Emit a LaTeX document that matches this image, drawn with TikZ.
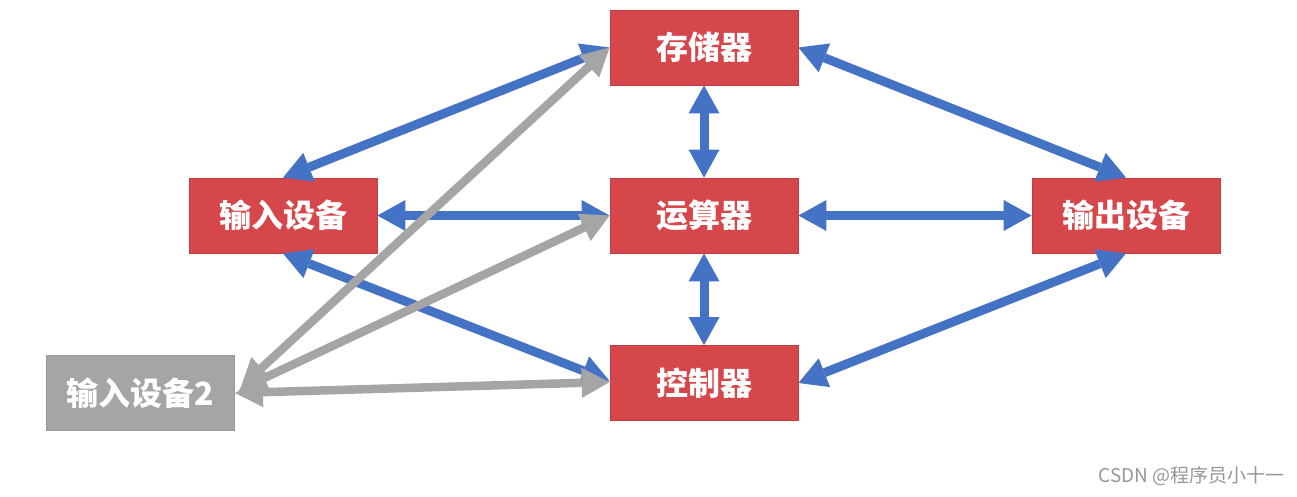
\documentclass[tikz,border=0pt]{standalone}
\usepackage{fontspec}
\newfontfamily\cjk{Noto Sans CJK SC}
\usetikzlibrary{arrows.meta}
\definecolor{boxred}{RGB}{214,71,75}
\definecolor{arrblue}{RGB}{68,114,196}
\definecolor{arrgray}{RGB}{165,165,165}
\definecolor{markgray}{RGB}{150,150,150}
\tikzset{
  box/.style={fill=boxred, draw=boxred!88!black, line width=0.8pt,
    minimum width=188pt, minimum height=75pt, inner sep=0pt, text=white,
    font=\cjk\bfseries\fontsize{32}{36}\selectfont},
  graybox/.style={box, fill=arrgray, draw=arrgray!92!black},
  bluearrow/.style={draw=arrblue, line width=9pt, <->,
    >={Triangle[length=28pt,width=31pt,line width=0pt]}},
  grayarrow/.style={draw=arrgray, line width=8.5pt, <->,
    >={Triangle[length=28pt,width=30pt,line width=0pt]}},
}
\begin{document}
\begin{tikzpicture}[x=1pt,y=-1pt]
\useasboundingbox (0,0) rectangle (1297,496);
\node[box] (mem) at (704,47.5) {存储器};
\node[box] (in) at (283,215.5) {输入设备};
\node[box] (alu) at (704,215.5) {运算器};
\node[box] (out) at (1126,215.5) {输出设备};
\node[box] (ctl) at (704,383) {控制器};
\node[graybox] (in2) at (140.5,393) {输入设备2};
% blue connectors
\draw[bluearrow] (in.north) -- (mem.west);
\draw[bluearrow] (mem.east) -- (out.north);
\draw[bluearrow] (mem.south) -- (alu.north);
\draw[bluearrow] (alu.south) -- (ctl.north);
\draw[bluearrow] (in.east) -- (alu.west);
\draw[bluearrow] (alu.east) -- (out.west);
\draw[bluearrow] (in.south) -- ([yshift=2pt]ctl.west);
\draw[bluearrow] (ctl.east) -- (out.south);
% gray connectors
\draw[grayarrow] ([xshift=6pt,yshift=6pt]in2.east) -- (mem.west);
\draw[grayarrow] ([xshift=4pt,yshift=3pt]in2.east) -- (alu.west);
\draw[grayarrow] (in2.east) -- ([yshift=1pt]ctl.west);
% watermark
\node[text=markgray, font=\cjk\fontsize{19}{22}\selectfont, anchor=east, inner sep=0pt] (mark) at (1285,476) {CSDN @程序员小十一};
\end{tikzpicture}
\end{document}
